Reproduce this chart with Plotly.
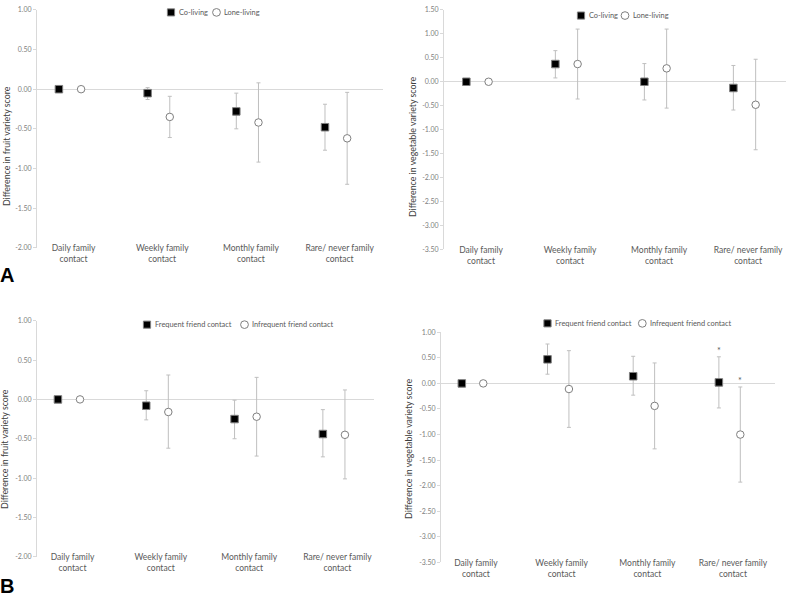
import plotly.graph_objects as go

W, H = 787, 596

# ---------------- data ----------------
categories = ["Daily family<br>contact", "Weekly family<br>contact",
              "Monthly family<br>contact", "Rare/ never family<br>contact"]

# Panel A - living arrangement
coliving_fruit = [0.00, -0.05, -0.28, -0.48]
coliving_fruit_lo = [None, -0.13, -0.50, -0.77]
coliving_fruit_hi = [None, 0.02, -0.05, -0.19]
loneliving_fruit = [0.00, -0.35, -0.42, -0.62]
loneliving_fruit_lo = [None, -0.61, -0.92, -1.20]
loneliving_fruit_hi = [None, -0.09, 0.08, -0.04]

coliving_veg = [0.00, 0.37, 0.00, -0.13]
coliving_veg_lo = [None, 0.08, -0.38, -0.59]
coliving_veg_hi = [None, 0.65, 0.38, 0.34]
loneliving_veg = [0.00, 0.37, 0.28, -0.48]
loneliving_veg_lo = [None, -0.36, -0.55, -1.42]
loneliving_veg_hi = [None, 1.10, 1.10, 0.47]

# Panel B - friend contact
frequent_fruit = [0.00, -0.08, -0.25, -0.44]
frequent_fruit_lo = [None, -0.26, -0.50, -0.73]
frequent_fruit_hi = [None, 0.11, -0.01, -0.13]
infrequent_fruit = [0.00, -0.16, -0.22, -0.45]
infrequent_fruit_lo = [None, -0.62, -0.72, -1.01]
infrequent_fruit_hi = [None, 0.31, 0.28, 0.12]

frequent_veg = [0.00, 0.47, 0.14, 0.02]
frequent_veg_lo = [None, 0.18, -0.23, -0.48]
frequent_veg_hi = [None, 0.77, 0.53, 0.52]
infrequent_veg = [0.00, -0.11, -0.44, -1.00]
infrequent_veg_lo = [None, -0.86, -1.28, -1.93]
infrequent_veg_hi = [None, 0.64, 0.40, -0.07]

# significance (*) flags for panel B vegetable chart
frequent_veg_sig = [False, False, False, True]
infrequent_veg_sig = [False, False, False, True]

fruit_ticks = [1.00, 0.50, 0.00, -0.50, -1.00, -1.50, -2.00]
veg_ticks_A = [1.50, 1.00, 0.50, 0.00, -0.50, -1.00, -1.50, -2.00, -2.50, -3.00, -3.50]
veg_ticks_B = [1.00, 0.50, 0.00, -0.50, -1.00, -1.50, -2.00, -2.50, -3.00, -3.50]

# ---------------- style ----------------
FONT = "Lato, 'Open Sans', Arial, sans-serif"
TXT = "#595959"
TICK = "#808080"
AXC = "#d9d9d9"
ERRC = "#bfbfbf"
OFF = 0.125


def px_x(p):
    return p / W


def px_y(p):
    return 1 - p / H


fig = go.Figure()

panels = [
    dict(ax="", s1=(coliving_fruit, coliving_fruit_lo, coliving_fruit_hi),
         s2=(loneliving_fruit, loneliving_fruit_lo, loneliving_fruit_hi),
         names=("Co-living", "Lone-living"), xd=(37, 383), yd=(5, 246),
         xr=(-0.372, 3.529), ticks=fruit_ticks,
         title="Difference in fruit variety score", tpos=(6, 143)),
    dict(ax="2", s1=(coliving_veg, coliving_veg_lo, coliving_veg_hi),
         s2=(loneliving_veg, loneliving_veg_lo, loneliving_veg_hi),
         names=("Co-living", "Lone-living"), xd=(444, 786), yd=(5, 247.7),
         xr=(-0.376, 3.466), ticks=veg_ticks_A,
         title="Difference in vegetable variety score", tpos=(412, 144)),
    dict(ax="3", s1=(frequent_fruit, frequent_fruit_lo, frequent_fruit_hi),
         s2=(infrequent_fruit, infrequent_fruit_lo, infrequent_fruit_hi),
         names=("Frequent friend contact", "Infrequent friend contact"), xd=(37, 374), yd=(320, 559.3),
         xr=(-0.362, 3.454), ticks=fruit_ticks,
         title="Difference in fruit variety score", tpos=(5, 450)),
    dict(ax="4", s1=(frequent_veg, frequent_veg_lo, frequent_veg_hi),
         s2=(infrequent_veg, infrequent_veg_lo, infrequent_veg_hi),
         names=("Frequent friend contact", "Infrequent friend contact"), xd=(441, 775), yd=(331.7, 565),
         xr=(-0.368, 3.53), ticks=veg_ticks_B,
         title="Difference in vegetable variety score", tpos=(409, 450)),
]


def err(vals, lo, hi):
    plus = [None if h is None else h - v for v, h in zip(vals, hi)]
    minus = [None if l is None else v - l for v, l in zip(vals, lo)]
    return plus, minus


annotations = []
shapes = []

for p in panels:
    ax = p["ax"]
    xs_idx = list(range(len(categories)))
    for k, (ser, off, sym, fill) in enumerate([(p["s1"], -OFF, "square", "#000000"),
                                               (p["s2"], OFF, "circle", "#ffffff")]):
        vals, lo, hi = ser
        plus, minus = err(vals, lo, hi)
        fig.add_trace(go.Scatter(
            x=[i + off for i in xs_idx], y=vals, mode="markers",
            name=p["names"][k], showlegend=False,
            xaxis="x" + ax, yaxis="y" + ax,
            marker=dict(symbol=sym, size=7.5, color=fill,
                        line=dict(color="#7f7f7f", width=1)),
            error_y=dict(type="data", symmetric=False, array=plus, arrayminus=minus,
                         color=ERRC, thickness=1, width=2),
        ))
    xa = dict(domain=[px_x(p["xd"][0]), px_x(p["xd"][1])], range=list(p["xr"]),
              tickvals=[i + 0.04 for i in range(len(categories))], ticktext=categories,
              showgrid=False, zeroline=False, showline=False, ticks="",
              tickfont=dict(family=FONT, size=8.5, color=TXT),
              anchor="y" + ax, fixedrange=True, ticklabelstandoff=-6)
    ya = dict(domain=[px_y(p["yd"][1]), px_y(p["yd"][0])],
              range=[min(p["ticks"]), max(p["ticks"])],
              tickvals=p["ticks"], ticktext=[f"{t:.2f}" for t in p["ticks"]],
              showgrid=False, zeroline=True, zerolinecolor=AXC, zerolinewidth=1,
              showline=True, linecolor=AXC, linewidth=1,
              ticks="outside", ticklen=3, tickcolor=AXC,
              tickfont=dict(family=FONT, size=7, color=TICK),
              anchor="x" + ax, fixedrange=True)
    fig.update_layout(**{"xaxis" + ax: xa, "yaxis" + ax: ya})
    annotations.append(dict(text=p["title"], textangle=-90, xref="paper", yref="paper",
                            x=px_x(p["tpos"][0]), y=px_y(p["tpos"][1]),
                            showarrow=False, xanchor="center", yanchor="middle",
                            font=dict(family=FONT, size=8.8, color="#404040")))

# significance asterisks
for ser_hi, sig, off in [(frequent_veg_hi, frequent_veg_sig, -OFF), (infrequent_veg_hi, infrequent_veg_sig, OFF)]:
    for i, (h, s) in enumerate(zip(ser_hi, sig)):
        if s:
            annotations.append(dict(text="*", xref="x4", yref="y4", x=i + off, y=h,
                                    yanchor="middle", yshift=6, showarrow=False,
                                    font=dict(family=FONT, size=9, color="#595959")))

# legends (symbols + real text)
legends = [
    ((171, 7.5), "Co-living", (216.5, 7.5), "Lone-living"),
    ((581, 10.7), "Co-living", (625, 10.7), "Lone-living"),
    ((147, 324), "Frequent friend contact", (244.5, 324), "Infrequent friend contact"),
    ((547.5, 322.7), "Frequent friend contact", (642.3, 322.7), "Infrequent friend contact"),
]
hs = 3.6
for (sq, t1, ci, t2) in legends:
    shapes.append(dict(type="rect", xref="paper", yref="paper",
                       x0=px_x(sq[0] - hs), x1=px_x(sq[0] + hs), y0=px_y(sq[1] + hs), y1=px_y(sq[1] - hs),
                       fillcolor="#000000", line=dict(color="#7f7f7f", width=1)))
    shapes.append(dict(type="circle", xref="paper", yref="paper",
                       x0=px_x(ci[0] - hs - 0.3), x1=px_x(ci[0] + hs + 0.3), y0=px_y(ci[1] + hs + 0.3), y1=px_y(ci[1] - hs - 0.3),
                       fillcolor="#ffffff", line=dict(color="#7f7f7f", width=1)))
    for (pos, t) in [(sq, t1), (ci, t2)]:
        annotations.append(dict(text=t, xref="paper", yref="paper",
                                x=px_x(pos[0] + hs + 2), y=px_y(pos[1]), xanchor="left", yanchor="middle",
                                showarrow=False, font=dict(family=FONT, size=7.4, color=TXT)))

# panel letters
for letter, (lx, ly) in [("A", (0, 274)), ("B", (0, 589))]:
    annotations.append(dict(text=f"<b>{letter}</b>", xref="paper", yref="paper",
                            x=px_x(lx), y=px_y(ly), xanchor="left", yanchor="middle", xshift=-2,
                            showarrow=False, font=dict(family="Liberation Sans, Arial, sans-serif", size=20, color="#000000")))

fig.update_layout(width=W, height=H, autosize=False,
                  margin=dict(l=0, r=0, t=0, b=0, pad=0),
                  paper_bgcolor="white", plot_bgcolor="white",
                  annotations=annotations, shapes=shapes, showlegend=False)

fig.write_html("out.html", config={"displayModeBar": False, "staticPlot": True},
               post_script="document.body.style.margin='0px';document.body.style.overflow='hidden';")
